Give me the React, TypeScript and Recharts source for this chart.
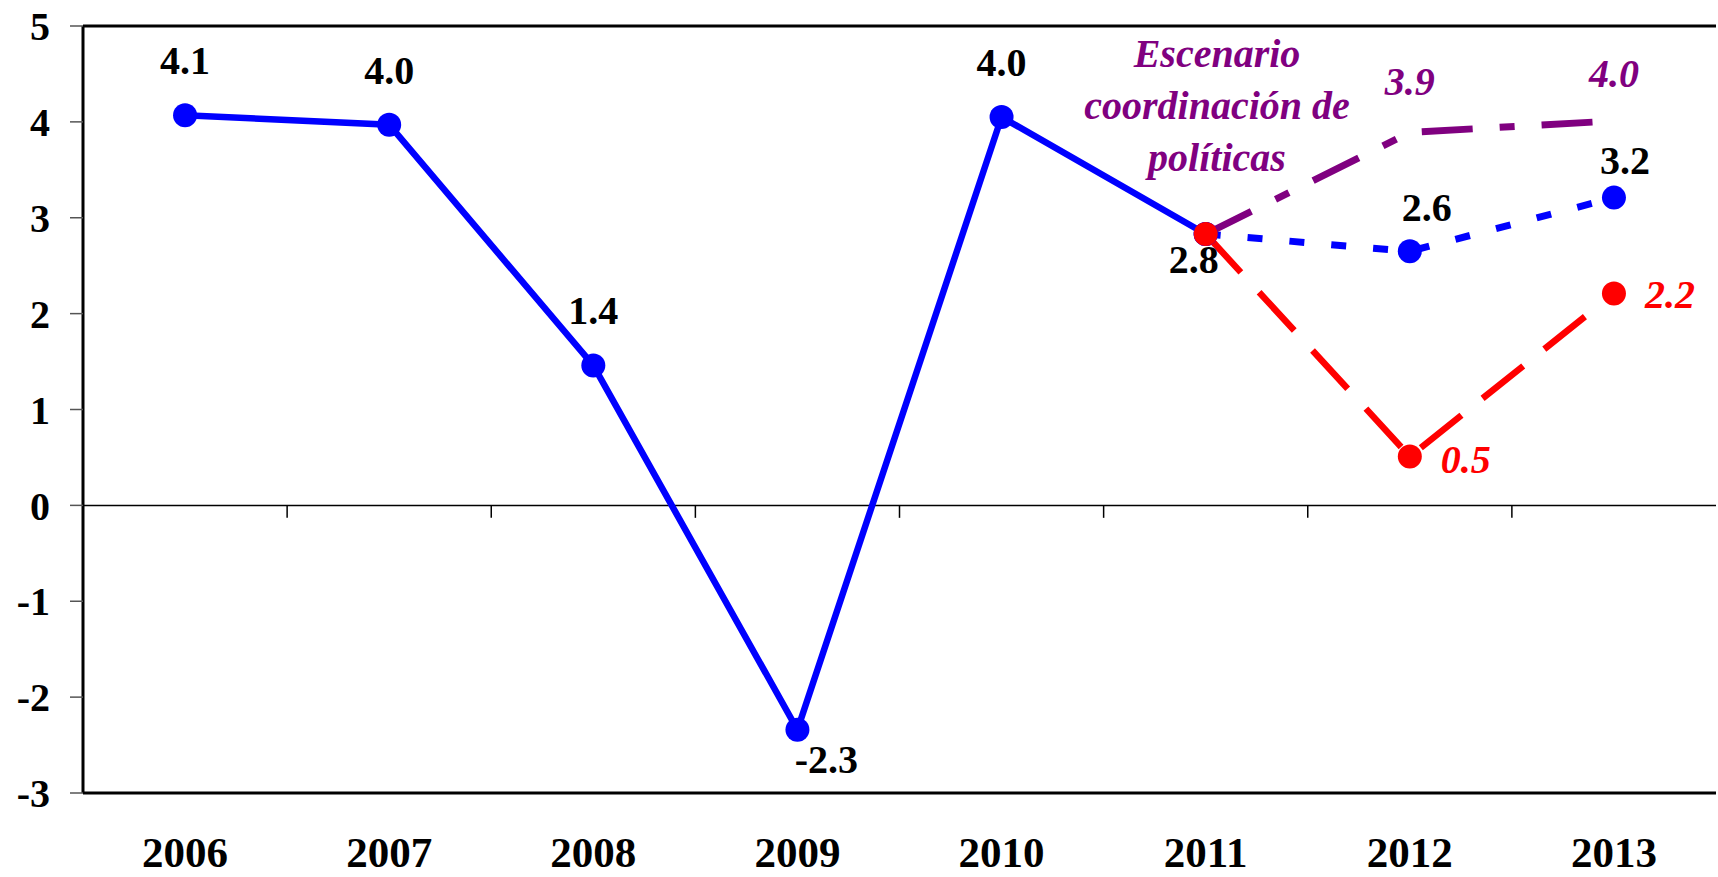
import React from 'react';
import { LineChart, Line, XAxis, YAxis, ReferenceLine, LabelList } from 'recharts';

const years = ['2006', '2007', '2008', '2009', '2010', '2011', '2012', '2013'];
const observed = [4.07, 3.97, 1.46, -2.34, 4.05, 2.83, null, null];
const baseline = [null, null, null, null, null, 2.83, 2.65, 3.21];
const adverse = [null, null, null, null, null, 2.83, 0.51, 2.21];
const coordination = [null, null, null, null, null, 2.83, 3.89, 4.01];
const observedLabels = ['4.1', '4.0', '1.4', '-2.3', '4.0', '2.8', '', ''];
const baselineLabels = ['', '', '', '', '', '', '2.6', '3.2'];
const adverseLabels = ['', '', '', '', '', '', '0.5', '2.2'];
const coordinationLabels = ['', '', '', '', '', '', '3.9', '4.0'];
const yTicks = [-3, -2, -1, 0, 1, 2, 3, 4, 5];
const boundaries = [0.5, 1.5, 2.5, 3.5, 4.5, 5.5, 6.5];
const annotationLines = ['Escenario', 'coordinación de', 'políticas'];

const data = years.map((y, i) => ({
  x: i,
  year: y,
  observed: observed[i],
  baseline: baseline[i],
  adverse: adverse[i],
  coordination: coordination[i],
  observedLabel: observedLabels[i],
  baselineLabel: baselineLabels[i],
  adverseLabel: adverseLabels[i],
  coordinationLabel: coordinationLabels[i],
}));

const FONT = '"Liberation Serif", "Times New Roman", serif';
const BLUE = '#0000FF';
const RED = '#FF0000';
const PURPLE = '#800080';

const observedOffsets: Record<number, { dx: number; dy: number }> = {
  3: { dx: 29, dy: 43 },
  5: { dx: -12, dy: 39 },
};

const makeLabel = (
  kind: 'observed' | 'baseline' | 'adverse' | 'coordination'
) => (props: any) => {
  const { x, y, value, index } = props;
  if (value === '' || value == null || x == null || y == null) return null;
  let dx = 0;
  let dy = -41;
  let anchor: 'middle' | 'start' = 'middle';
  let fill = '#000';
  let italic = false;
  if (kind === 'observed') {
    const o = observedOffsets[index];
    if (o) { dx = o.dx; dy = o.dy; }
  } else if (kind === 'baseline') {
    dx = index === 6 ? 17 : 11;
    dy = index === 6 ? -30 : -24;
  } else if (kind === 'adverse') {
    dx = 31;
    dy = index === 6 ? 17 : 15;
    anchor = 'start';
    fill = RED;
    italic = true;
  } else {
    dx = 0;
    dy = index === 6 ? -37 : -34;
    fill = PURPLE;
    italic = true;
  }
  return (
    <text
      x={x + dx}
      y={y + dy}
      textAnchor={anchor}
      fontFamily={FONT}
      fontWeight="bold"
      fontStyle={italic ? 'italic' : 'normal'}
      fontSize={40}
      fill={fill}
    >
      {value}
    </text>
  );
};

const XTick = (props: any) => {
  const { x, y, payload } = props;
  return (
    <text
      x={x}
      y={y + 74}
      textAnchor="middle"
      fontFamily={FONT}
      fontWeight="bold"
      fontSize={43}
      fill="#000"
    >
      {years[payload.value]}
    </text>
  );
};

export default function App() {
  return (
    <div style={{ position: 'absolute', left: 0, top: 0, width: 1718, height: 877, background: '#fff' }}>
      <LineChart
        width={1718}
        height={877}
        data={data}
        margin={{ top: 26, right: 2, bottom: 0, left: 0 }}
      >
        <XAxis
          dataKey="x"
          type="number"
          domain={[-0.5, 7.5]}
          ticks={[0, 1, 2, 3, 4, 5, 6, 7]}
          height={84}
          axisLine={{ stroke: '#000', strokeWidth: 3 }}
          tickLine={false}
          tickSize={0}
          tickMargin={0}
          tick={<XTick />}
          allowDataOverflow
        />
        <YAxis
          type="number"
          domain={[-3, 5]}
          ticks={yTicks}
          width={83}
          axisLine={{ stroke: '#000', strokeWidth: 3 }}
          tickLine={{ stroke: '#555', strokeWidth: 1.5 }}
          tickSize={13}
          tickMargin={20}
          tick={{ fontFamily: FONT, fontWeight: 'bold', fontSize: 40, fill: '#000' }}
          allowDataOverflow
        />
        <ReferenceLine y={5} stroke="#000" strokeWidth={3} />
        <ReferenceLine y={0} stroke="#000" strokeWidth={1.5} />
        {boundaries.map((b) => (
          <ReferenceLine
            key={b}
            segment={[{ x: b, y: 0 }, { x: b, y: -0.13 }]}
            stroke="#000"
            strokeWidth={1.5}
          />
        ))}
        <Line
          dataKey="observed"
          stroke={BLUE}
          strokeWidth={6.5}
          dot={{ r: 12, fill: BLUE, stroke: 'none' }}
          isAnimationActive={false}
          connectNulls={false}
        >
          <LabelList dataKey="observedLabel" content={makeLabel('observed')} />
        </Line>
        <Line
          dataKey="baseline"
          stroke={BLUE}
          strokeWidth={7}
          strokeDasharray="15 27"
          dot={{ r: 12, fill: BLUE, stroke: 'none', strokeDasharray: '' }}
          isAnimationActive={false}
        >
          <LabelList dataKey="baselineLabel" content={makeLabel('baseline')} />
        </Line>
        <Line
          dataKey="coordination"
          stroke={PURPLE}
          strokeWidth={7}
          strokeDasharray="51 27 15 27"
          dot={false}
          isAnimationActive={false}
        >
          <LabelList dataKey="coordinationLabel" content={makeLabel('coordination')} />
        </Line>
        <Line
          dataKey="adverse"
          stroke={RED}
          strokeWidth={6.5}
          strokeDasharray="52 27"
          dot={{ r: 12, fill: RED, stroke: 'none', strokeDasharray: '' }}
          isAnimationActive={false}
        >
          <LabelList dataKey="adverseLabel" content={makeLabel('adverse')} />
        </Line>
      </LineChart>
      <svg
        width={1718}
        height={877}
        style={{ position: 'absolute', left: 0, top: 0, pointerEvents: 'none' }}
      >
        {annotationLines.map((t, i) => (
          <text
            key={t}
            x={1217}
            y={67 + i * 52}
            textAnchor="middle"
            fontFamily={FONT}
            fontWeight="bold"
            fontStyle="italic"
            fontSize={40}
            fill={PURPLE}
          >
            {t}
          </text>
        ))}
      </svg>
    </div>
  );
}
